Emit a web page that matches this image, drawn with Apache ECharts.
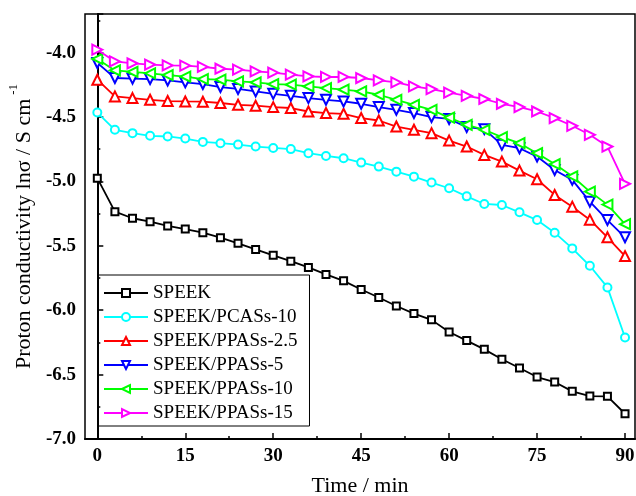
<!DOCTYPE html>
<html><head><meta charset="utf-8">
<script src="https://cdn.jsdelivr.net/npm/echarts@6/dist/echarts.min.js"></script>
<style>html,body{margin:0;padding:0;background:#fff}#c{width:636px;height:496px}</style>
</head><body><div id="c"></div>
<script>
const times = [0,3,6,9,12,15,18,21,24,27,30,33,36,39,42,45,48,51,54,57,60,63,66,69,72,75,78,81,84,87,90];
const speek  = [-4.975,-5.235,-5.286,-5.313,-5.346,-5.370,-5.398,-5.437,-5.481,-5.528,-5.574,-5.619,-5.668,-5.722,-5.772,-5.839,-5.901,-5.967,-6.026,-6.075,-6.169,-6.236,-6.304,-6.381,-6.449,-6.519,-6.558,-6.630,-6.667,-6.669,-6.804];
const pcas10 = [-4.465,-4.599,-4.625,-4.646,-4.651,-4.667,-4.693,-4.703,-4.714,-4.729,-4.740,-4.749,-4.781,-4.802,-4.820,-4.854,-4.885,-4.924,-4.963,-5.009,-5.053,-5.116,-5.175,-5.183,-5.240,-5.300,-5.398,-5.520,-5.655,-5.823,-6.212];
const ppas25 = [-4.210,-4.340,-4.353,-4.366,-4.376,-4.379,-4.381,-4.391,-4.405,-4.412,-4.423,-4.430,-4.457,-4.469,-4.475,-4.508,-4.527,-4.574,-4.599,-4.625,-4.683,-4.729,-4.794,-4.846,-4.916,-4.983,-5.105,-5.196,-5.297,-5.434,-5.580];
const ppas5  = [-4.080,-4.197,-4.202,-4.205,-4.216,-4.231,-4.244,-4.267,-4.282,-4.301,-4.320,-4.335,-4.353,-4.366,-4.379,-4.397,-4.423,-4.444,-4.469,-4.500,-4.515,-4.578,-4.594,-4.716,-4.742,-4.807,-4.911,-4.988,-5.157,-5.300,-5.434];
const ppas10 = [-4.049,-4.138,-4.150,-4.161,-4.174,-4.187,-4.205,-4.210,-4.223,-4.231,-4.245,-4.249,-4.262,-4.275,-4.288,-4.301,-4.327,-4.366,-4.405,-4.444,-4.505,-4.560,-4.599,-4.656,-4.703,-4.781,-4.865,-4.960,-5.079,-5.180,-5.332];
const ppas15 = [-3.977,-4.068,-4.083,-4.093,-4.099,-4.101,-4.111,-4.125,-4.132,-4.146,-4.156,-4.171,-4.184,-4.189,-4.189,-4.197,-4.216,-4.231,-4.262,-4.283,-4.311,-4.335,-4.360,-4.397,-4.423,-4.457,-4.508,-4.568,-4.638,-4.729,-5.019];
const xMajorTicks = [0,15,30,45,60,75,90];
const xMinorTicks = [7.5,22.5,37.5,52.5,67.5,82.5];
const seriesNames = ['SPEEK','SPEEK/PCASs-10','SPEEK/PPASs-2.5','SPEEK/PPASs-5','SPEEK/PPASs-10','SPEEK/PPASs-15'];

const FONT = "'Liberation Serif','Times New Roman',serif";
const defs = [
  {vals: speek,  color:'#000000', symbol:'rect',     size:7,  rot:0},
  {vals: pcas10, color:'#00FFFF', symbol:'circle',   size:8,  rot:0},
  {vals: ppas25, color:'#FF0000', symbol:'triangle', size:10, rot:0},
  {vals: ppas5,  color:'#0000FF', symbol:'triangle', size:10, rot:180},
  {vals: ppas10, color:'#00FF00', symbol:'triangle', size:10, rot:90},
  {vals: ppas15, color:'#FF00FF', symbol:'triangle', size:10, rot:-90}
];
const series = defs.map((d,i)=>({
  name: seriesNames[i], type:'line',
  data: times.map((t,k)=>[t, d.vals[k]]),
  symbol: d.symbol, symbolSize: d.size, symbolRotate: d.rot, showSymbol:true,
  lineStyle:{color:d.color, width:1.8},
  itemStyle:{color:'#ffffff', borderColor:d.color, borderWidth:2},
  emphasis:{disabled:true}, z: 2+i
}));

const chart = echarts.init(document.getElementById('c'), null, {renderer:'canvas'});
chart.setOption({
  animation:false,
  backgroundColor:'#fff',
  grid:{left:85, right:1, top:14, bottom:57, outerBoundsMode:'none', containLabel:false,
    show:true, borderColor:'#000', borderWidth:1.5, backgroundColor:'transparent'},
  legend:{
    orient:'vertical', left:98, top:275, data: seriesNames,
    itemWidth:44, itemHeight:10, itemGap:4,
    padding:[8,12,3,5], borderColor:'#000', borderWidth:1,
    textStyle:{fontFamily:FONT, fontSize:19, color:'#000', lineHeight:20}
  },
  xAxis:[{
    type:'value', min:-2.1, max:91.7,
    name:'Time / min', nameLocation:'middle', nameGap:36,
    nameTextStyle:{fontFamily:FONT, fontSize:22, color:'#000'},
    axisLine:{show:true, lineStyle:{color:'#000', width:2}},
    axisTick:{show:true, inside:true, length:6, customValues:xMajorTicks, lineStyle:{color:'#000', width:1.5}},
    axisLabel:{customValues:xMajorTicks, fontFamily:FONT, fontWeight:'bold', fontSize:19, color:'#000', margin:8},
    splitLine:{show:false}
  },{
    type:'value', min:-2.1, max:91.7, position:'bottom',
    axisLine:{show:false},
    axisTick:{show:true, inside:true, length:3, customValues:xMinorTicks, lineStyle:{color:'#000', width:1.5}},
    axisLabel:{show:false}, splitLine:{show:false}
  }],
  yAxis:{
    type:'value', min:-7, max:-3.7, interval:0.5,
    name:'{a|Proton conductivity ln\u03c3 / S cm}{b|-1}', nameLocation:'middle', nameGap:36, nameRotate:90,
    nameTextStyle:{fontFamily:FONT, fontSize:22, color:'#000',
      rich:{a:{fontFamily:FONT, fontSize:22, color:'#000', lineHeight:34}, b:{fontFamily:FONT, fontSize:13, color:'#000', verticalAlign:'top', padding:[0,0,0,4]}}},
    axisLine:{show:true, lineStyle:{color:'#000', width:2}},
    axisTick:{show:true, inside:true, length:6, lineStyle:{color:'#000', width:1.5}},
    minorTick:{show:true, splitNumber:2, length:3, lineStyle:{color:'#000', width:1.5}},
    axisLabel:{fontFamily:FONT, fontWeight:'bold', fontSize:19, color:'#000', margin:9, showMaxLabel:false,
      formatter:v=>v.toFixed(1)},
    splitLine:{show:false}
  },
  series: series
});
</script></body></html>
